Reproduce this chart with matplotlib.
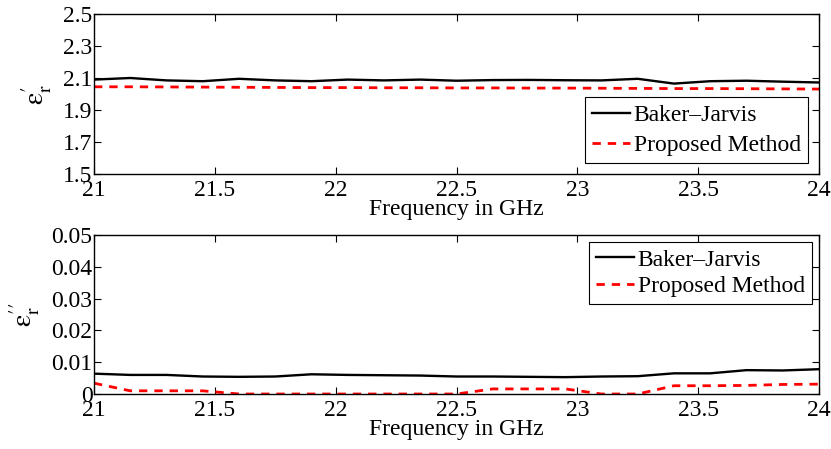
import matplotlib
matplotlib.use("Agg")
import matplotlib.pyplot as plt

# Frequency grid (GHz)
freq = [21.0, 21.15, 21.3, 21.45, 21.6, 21.75, 21.9, 22.05, 22.2, 22.35, 22.5,
        22.65, 22.8, 22.95, 23.1, 23.25, 23.4, 23.55, 23.7, 23.85, 24.0]

# Real part of permittivity
real_bj = [2.090, 2.100, 2.085, 2.080, 2.095, 2.085, 2.080, 2.090, 2.085, 2.090, 2.083,
           2.087, 2.088, 2.086, 2.085, 2.095, 2.065, 2.080, 2.083, 2.077, 2.072]
real_pm = [2.045, 2.045, 2.044, 2.043, 2.042, 2.041, 2.040, 2.040, 2.039, 2.039, 2.038,
           2.038, 2.037, 2.037, 2.036, 2.035, 2.034, 2.034, 2.033, 2.032, 2.031]

# Imaginary part of permittivity
imag_bj = [0.0064, 0.0060, 0.0060, 0.0055, 0.0054, 0.0055, 0.0062, 0.0060, 0.0059, 0.0058, 0.0055,
           0.0055, 0.0054, 0.0053, 0.0055, 0.0056, 0.0065, 0.0065, 0.0075, 0.0074, 0.0078]
imag_pm = [0.0034, 0.0010, 0.0010, 0.0010, 0.0000, 0.0000, 0.0000, 0.0000, 0.0000, 0.0000, 0.0000,
           0.0016, 0.0016, 0.0016, 0.0000, 0.0000, 0.0026, 0.0026, 0.0027, 0.0030, 0.0031]

xticks = [21, 21.5, 22, 22.5, 23, 23.5, 24]
xtick_labels = ["21", "21.5", "22", "22.5", "23", "23.5", "24"]

plt.rcParams["font.family"] = "Liberation Serif"
plt.rcParams["mathtext.fontset"] = "stix"

FS = 17
DASH = (0, (3, 2.5))

fig = plt.figure(figsize=(8.31, 4.49), dpi=100)
ax1 = fig.add_axes([94 / 831, 1 - 174 / 449, 725 / 831, 160 / 449])
ax2 = fig.add_axes([94 / 831, 1 - 394 / 449, 725 / 831, 159 / 449])


def style_axis(ax):
    ax.tick_params(direction="in", top=True, right=True, length=5, width=0.8, pad=1, labelsize=FS)
    ax.tick_params(axis="x", pad=4)
    for s in ax.spines.values():
        s.set_linewidth(1.0)
    ax.set_xlim(21, 24)
    ax.set_xticks(xticks)
    ax.set_xticklabels(xtick_labels)
    ax.set_xlabel("Frequency in GHz", fontsize=FS, labelpad=-1)


def add_legend(ax, loc, pad, spacing):
    leg = ax.legend(loc=loc, fancybox=False, edgecolor="black", framealpha=1,
                    fontsize=FS, handlelength=1.6, handletextpad=0.15, borderpad=0.3,
                    labelspacing=spacing, borderaxespad=pad)
    leg.get_frame().set_linewidth(0.8)


# Top: real part
ax1.plot(freq, real_bj, color="black", lw=1.7, label="Baker\u2013Jarvis")
ax1.plot(freq, real_pm, color="red", lw=2.0, ls=DASH, label="Proposed Method")
style_axis(ax1)
ax1.set_ylim(1.5, 2.5)
ax1.set_yticks([1.5, 1.7, 1.9, 2.1, 2.3, 2.5])
ax1.set_yticklabels(["1.5", "1.7", "1.9", "2.1", "2.3", "2.5"])
ax1.set_ylabel("$\\mathrm{\u03b5}^{\\prime}_{\\mathrm{r}}$", fontsize=20, labelpad=7)
add_legend(ax1, "lower right", 0.47, 0.35)

# Bottom: imaginary part
ax2.plot(freq, imag_bj, color="black", lw=1.7, label="Baker\u2013Jarvis")
ax2.plot(freq, imag_pm, color="red", lw=2.0, ls=DASH, label="Proposed Method")
style_axis(ax2)
ax2.set_ylim(0, 0.05)
ax2.set_yticks([0, 0.01, 0.02, 0.03, 0.04, 0.05])
ax2.set_yticklabels(["0", "0.01", "0.02", "0.03", "0.04", "0.05"])
ax2.set_ylabel("$\\mathrm{\u03b5}^{\\prime\\prime}_{\\mathrm{r}}$", fontsize=20, labelpad=7)
add_legend(ax2, "upper right", 0.3, 0.2)

fig.savefig("out.png", dpi=100)
